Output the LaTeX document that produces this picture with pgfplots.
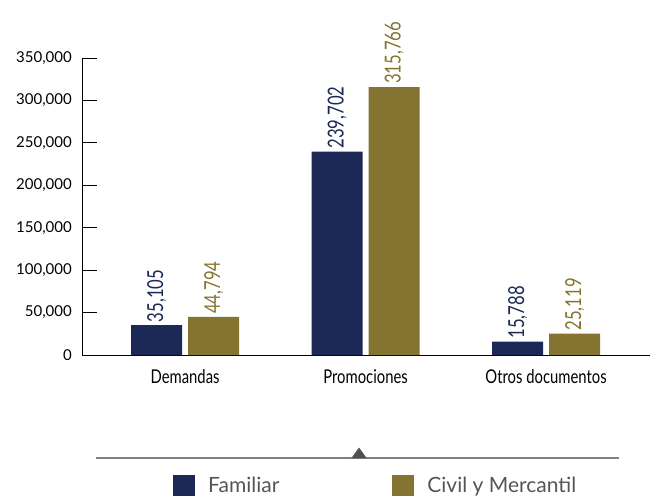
\documentclass[border=0pt]{standalone}
\usepackage{fontspec}
\setmainfont{Lato}
\newfontfamily\condfont[FakeStretch=0.76]{Lato}
\newfontfamily\catfont[FakeStretch=0.78]{Lato}
\usepackage{pgfplots}
\pgfplotsset{compat=1.18}
\definecolor{navy}{HTML}{1C2957}
\definecolor{olive}{HTML}{857431}
\definecolor{leggray}{HTML}{555555}
\definecolor{linegray}{HTML}{808080}
\definecolor{trigray}{HTML}{505050}
\begin{document}
\begin{tikzpicture}[x=1pt,y=1pt]
\useasboundingbox (0,0) rectangle (650,496);
\begin{axis}[
  at={(82pt,141pt)}, anchor=south west, scale only axis,
  width=568pt, height=297pt,
  xmin=-0.571, xmax=2.576, ymin=0, ymax=350000,
  axis x line=bottom, axis y line=left,
  axis line style={-, black, line width=1pt},
  xtick={0,1,2}, xticklabels={Demandas,Promociones,Otros documentos},
  x tick style={draw=none},
  xticklabel style={font=\catfont\fontsize{19}{19}\selectfont, inner sep=0pt, yshift=1pt},
  ytick={0,50000,100000,150000,200000,250000,300000,350000},
  y tick style={black, line width=1pt},
  major tick length=15pt, tick align=inside,
  scaled y ticks=false,
  /pgf/number format/assume math mode=true,
  yticklabel style={font=\fontsize{15}{15}\selectfont, /pgf/number format/.cd, fixed, 1000 sep={,}, /tikz/.cd, inner sep=0pt, xshift=-10pt},
  ybar=6pt, bar width=51pt,
  nodes near coords={\pgfmathprintnumber[fixed,precision=0,1000 sep={,}]{\pgfplotspointmeta}},
  nodes near coords style={rotate=90, anchor=west, inner sep=3pt, font=\condfont\fontsize{22}{22}\selectfont},
  legend columns=2,
  legend style={at={(axis description cs:0.1602,-0.4390)}, anchor=west, draw=none, fill=none,
    inner sep=0pt, font=\fontsize{21}{21}\selectfont, text=leggray,
    nodes={inner sep=0pt, yshift=7pt},
    /tikz/every odd column/.append style={column sep=13pt},
    /tikz/every even column/.append style={column sep=113pt}},
  legend image code/.code={\fill[#1] (0pt,-3pt) rectangle (22pt,18pt);},
]
\addplot[fill=navy, draw=none, every node near coord/.append style={text=navy}]
  coordinates {(0,35105) (1,239702) (2,15788)};
\addlegendentry{Familiar}
\addplot[fill=olive, draw=none, every node near coord/.append style={text=olive}]
  coordinates {(0,44794) (1,315766) (2,25119)};
\addlegendentry{Civil y Mercantil}
\end{axis}
\draw[linegray, line width=1.3pt] (96,38) -- (619,38);
\fill[trigray] (351.5,38) -- (366.5,38) -- (359,48.5) -- cycle;
\end{tikzpicture}
\end{document}
